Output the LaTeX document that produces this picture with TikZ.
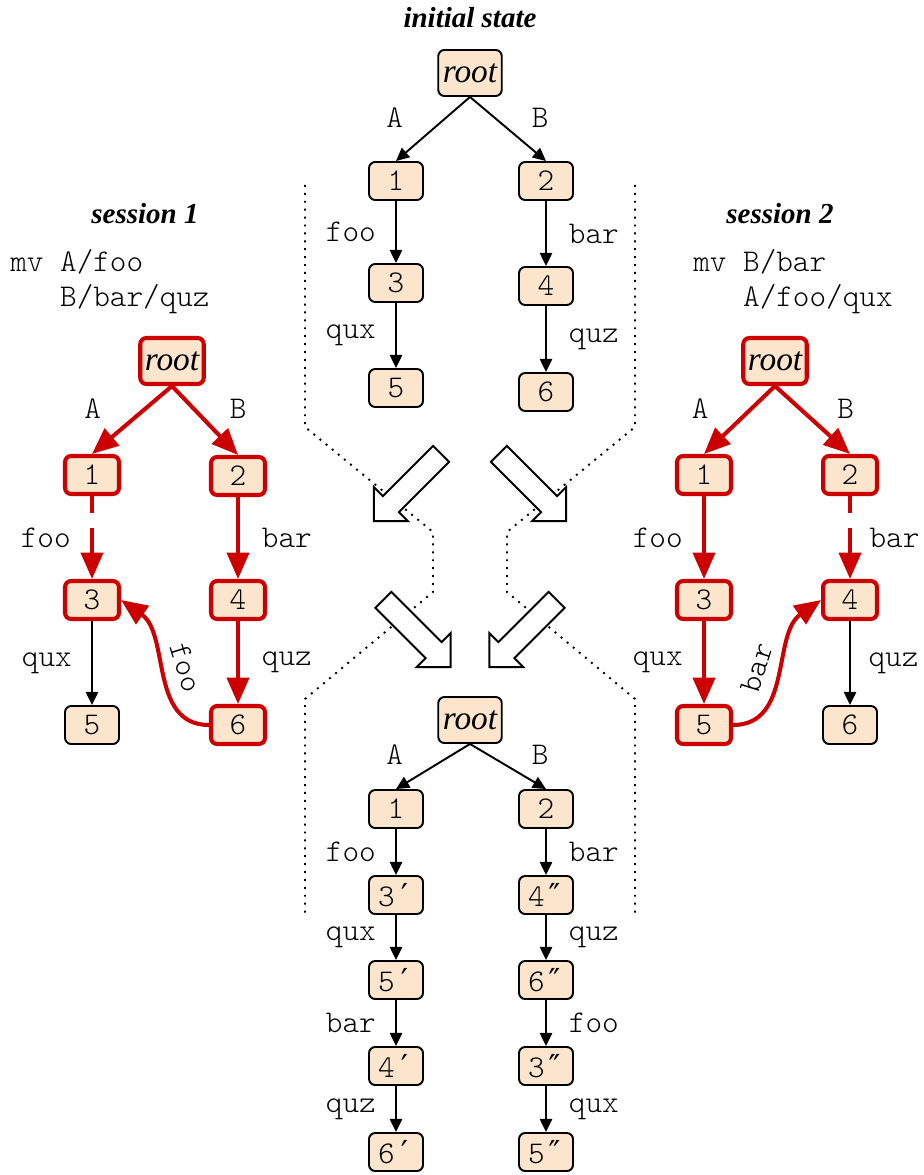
\documentclass[tikz,border=0pt]{standalone}
\usepackage{fontspec}
\setmainfont{Liberation Serif}
\setmonofont{Latin Modern Mono Light}
\newfontfamily\primefont{DejaVu Sans Mono}
\newcommand\pr{{\primefont ′}}
\newcommand\dpr{{\primefont ″}}
\usetikzlibrary{arrows.meta,positioning}
\definecolor{darkred}{RGB}{204,0,0}
\definecolor{peach}{RGB}{252,229,205}

\begin{document}
\begin{tikzpicture}[x=0.02cm, y=-0.02cm,
  box/.style={draw, line width=1.1pt, rounded corners=3.5pt, fill=peach,
    minimum width=1.08cm, minimum height=0.76cm, inner sep=2pt,
    font=\ttfamily\fontsize{18}{21}\selectfont},
  rbox/.style={box, draw=darkred, line width=2.3pt},
  rootbox/.style={minimum width=1.27cm, minimum height=0.92cm,
    font=\itshape\fontsize{19}{22}\selectfont},
  edge/.style={line width=1.1pt, -{Triangle[length=7.5pt,width=7pt]}},
  redge/.style={darkred, line width=2.3pt, -{Triangle[length=15pt,width=12.5pt]}},
  dsh/.style={dash pattern=on 9.5pt off 8.5pt on 60pt},
  lbl/.style={inner sep=0pt, text=black, font=\ttfamily\fontsize{18}{20}\selectfont},
  lft/.style={left=11pt},
  rgt/.style={right=12.5pt},
  la/.style={left=16.5pt, yshift=6.5pt},
  lb/.style={right=13pt, yshift=6.5pt},
  title/.style={font=\bfseries\itshape\fontsize{16.5}{19.8}\selectfont},
  sep/.style={line width=1.1pt, dash pattern=on 1.1pt off 3.4pt},
  bigarrow/.style={draw, line width=1.1pt, fill=white, line join=miter}
]
\useasboundingbox (0,0) rectangle (923,1175);

%initial state
\node[title] (t0) at (470,18) {initial state};
\node[box, rootbox] (i0) at (470,73) {root};
\foreach \x/\y/\num/\name in {396/181/1/i1, 546/181/2/i2, 396/283/3/i3,
    546/286/4/i4, 396/388/5/i5, 546/392/6/i6}{
  \node[box] (\name) at (\x,\y) {\num};
}
\draw[edge] (i0.south) -- node[lbl, la] {A} (i1.north);
\draw[edge] (i0.south) -- node[lbl, lb] {B} (i2.north);
\foreach \a/\b/\txt/\pos in {i1/i3/foo/lft, i3/i5/qux/lft, i2/i4/bar/rgt, i4/i6/quz/rgt}{
  \draw[edge] (\a.south) -- node[lbl, \pos] {\txt} (\b.north);
}

%session 1
\node[title] (t1) at (145,214) {session 1};
\node[lbl, anchor=north west, align=left] (c1) at (10,249) {mv A/foo\\\phantom{mv }B/bar/quz};
\node[rbox, rootbox] (a0) at (172,361) {root};
\foreach \x/\y/\num/\name/\st in {92/475/1/a1/rbox, 238/476/2/a2/rbox, 92/600/3/a3/rbox,
    238/600/4/a4/rbox, 92/725/5/a5/box, 238/725/6/a6/rbox}{
  \node[\st] (\name) at (\x,\y) {\num};
}
\draw[redge] (a0.south) -- node[lbl, la] {A} (a1.north);
\draw[redge] (a0.south) -- node[lbl, lb] {B} (a2.north);
\draw[redge, dsh] (a1.south) -- node[lbl, lft] {foo} (a3.north);
\draw[redge] (a2.south) -- node[lbl, rgt] {bar} (a4.north);
\draw[edge] (a3.south) -- node[lbl, lft] {qux} (a5.north);
\draw[redge] (a4.south) -- node[lbl, rgt] {quz} (a6.north);
\draw[redge] (a6.west) to[out=180, in=-35] node[lbl, sloped, above=8pt] {foo} (a3.east);

%session 2
\node[title] (t2) at (780,214) {session 2};
\node[lbl, anchor=north west, align=left] (c2) at (693,249) {mv B/bar\\\phantom{mv }A/foo/qux};
\node[rbox, rootbox] (b0) at (775,361) {root};
\foreach \x/\y/\num/\name/\st in {704/475/1/b1/rbox, 850/475/2/b2/rbox, 704/600/3/b3/rbox,
    850/600/4/b4/rbox, 704/725/5/b5/rbox, 850/725/6/b6/box}{
  \node[\st] (\name) at (\x,\y) {\num};
}
\draw[redge] (b0.south) -- node[lbl, la] {A} (b1.north);
\draw[redge] (b0.south) -- node[lbl, lb] {B} (b2.north);
\draw[redge] (b1.south) -- node[lbl, lft] {foo} (b3.north);
\draw[redge, dsh] (b2.south) -- node[lbl, right=10pt] {bar} (b4.north);
\draw[redge] (b3.south) -- node[lbl, lft] {qux} (b5.north);
\draw[edge] (b4.south) -- node[lbl, right=10pt] {quz} (b6.north);
\draw[redge] (b5.east) to[out=0, in=215] node[lbl, sloped, above=8pt] {bar} (b4.west);

%merged state
\node[box, rootbox] (m0) at (470,720) {root};
\foreach \x/\y/\num/\name in {396/809/1/m1, 546/809/2/m2, 396/895/3\pr/m3, 546/895/4\dpr/m4,
    396/980/5\pr/m5, 546/980/6\dpr/m6, 396/1066/4\pr/m7, 546/1066/3\dpr/m8,
    396/1152/6\pr/m9, 546/1152/5\dpr/m10}{
  \node[box] (\name) at (\x,\y) {\num};
}
\draw[edge] (m0.south) -- node[lbl, la] {A} (m1.north);
\draw[edge] (m0.south) -- node[lbl, lb] {B} (m2.north);
\foreach \a/\b/\txt/\pos in {m1/m3/foo/lft, m3/m5/qux/lft, m5/m7/bar/lft, m7/m9/quz/lft,
    m2/m4/bar/rgt, m4/m6/quz/rgt, m6/m8/foo/rgt, m8/m10/qux/rgt}{
  \draw[edge] (\a.south) -- node[lbl, \pos] {\txt} (\b.north);
}

%separators
\draw[sep] (305,185) -- (305,427) -- (433,532) -- (433,592) -- (305,699) -- (305,915);
\draw[sep] (635,185) -- (635,427) -- (507,532) -- (507,592) -- (635,699) -- (635,915);

%big arrows
\foreach \x/\y/\r in {407.5/487.5/225, 532.5/487.5/-45, 417/633.5/-45, 523/633.5/225}{
  \draw[bigarrow, shift={(\x,\y)}, rotate=\r] (-47.5,-11.3) -- (23.5,-11.3) -- (23.5,-24)
    -- (47.5,0) -- (23.5,24) -- (23.5,11.3) -- (-47.5,11.3) -- cycle;
}

\end{tikzpicture}
\end{document}
